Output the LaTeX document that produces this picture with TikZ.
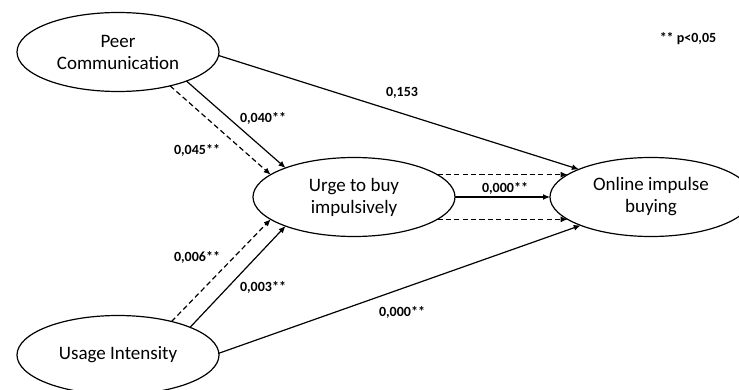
\documentclass[tikz,border=0pt]{standalone}
\usepackage{fontspec}
\setmainfont{Carlito}
\usetikzlibrary{shapes.geometric,arrows.meta}

\tikzset{
	construct/.style={ellipse, draw, line width=0.6pt, inner sep=0pt, outer sep=0pt,
		minimum width=101pt, minimum height=39.5pt, align=center,
		font=\fontsize{9.5}{11}\selectfont},
	coef/.style={font=\bfseries\fontsize{7}{8}\selectfont, inner sep=1pt},
	path/.style={line width=0.6pt, -{Latex[length=3.5pt,width=3pt]}},
	mediation/.style={path, dash pattern=on 2.6pt off 1.6pt}
}

\begin{document}
\begin{tikzpicture}[x=0.5pt, y=-0.5pt]
	\useasboundingbox (0,0) rectangle (739,390);
	\clip (0,0) rectangle (739,390);
	% constructs
	\node[construct] (peer) at (118,52) {Peer\\Communication};
	\node[construct] (usage) at (118,355) {Usage Intensity};
	\node[construct] (urge) at (354,197) {Urge to buy\\impulsively};
	\node[construct] (oib) at (651,197) {Online impulse\\buying};
	% direct paths
	\draw[path] (peer.-2) -- (oib.159);
	\draw[path] (usage.1) -- (oib.202);
	\draw[path] (peer.-23) -- (urge.157);
	\draw[path] (usage.21) -- (urge.203);
	\draw[path] (urge.east) -- (oib.west);
	% mediated paths
	\draw[mediation] (peer.-33) -- (urge.165);
	\draw[mediation] (usage.32) -- (urge.195);
	\draw[mediation] (urge.15) -- (urge.15 -| oib.165);
	\draw[mediation] (urge.-15) -- (urge.-15 -| oib.-165);
	% coefficients
	\node[coef] (c1) at (402,93) {0,153};
	\node[coef] (c2) at (263,118) {0,040**};
	\node[coef] (c3) at (197,150) {0,045**};
	\node[coef] (c4) at (197,257) {0,006**};
	\node[coef] (c5) at (263,287) {0,003**};
	\node[coef] (c6) at (402,312) {0,000**};
	\node[coef] (c7) at (505,188) {0,000**};
	\node[coef] (sig) at (688,39) {** p<0,05};
\end{tikzpicture}
\end{document}
